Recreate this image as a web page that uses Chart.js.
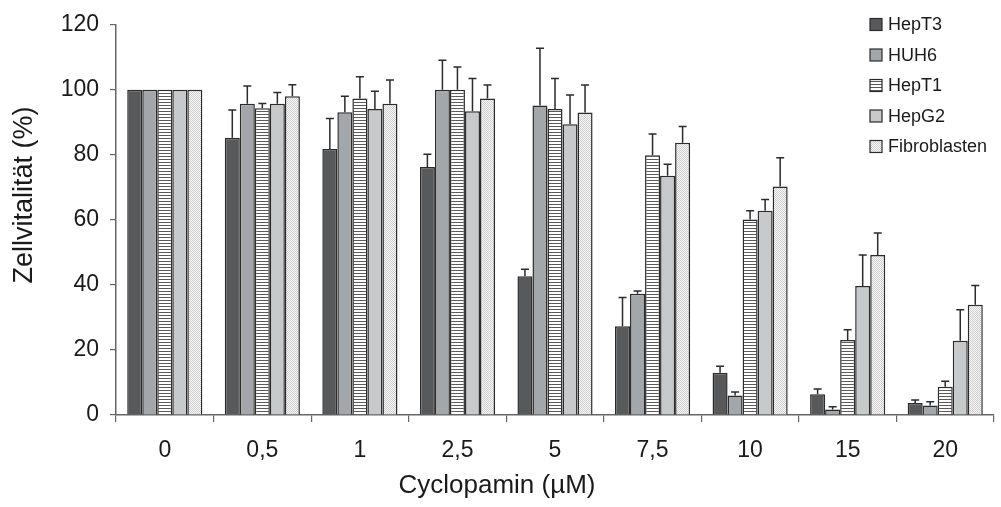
<!DOCTYPE html>
<html>
<head>
<meta charset="utf-8">
<script src="https://cdn.jsdelivr.net/npm/chart.js@4"></script>
<style>
  body { margin: 0; background: #fff; }
  #wrap { width: 1001px; height: 507px; }
</style>
</head>
<body>
<div id="wrap"><canvas id="chart" width="1001" height="507"></canvas></div>
<script>
// Data
const categories = ['0', '0,5', '1', '2,5', '5', '7,5', '10', '15', '20'];
const seriesNames = ['HepT3', 'HUH6', 'HepT1', 'HepG2', 'Fibroblasten'];

const hepT3 = [100, 85.3, 81.8, 76.3, 42.7, 27.3, 13.0, 6.4, 3.7];
const huh6 = [100, 95.7, 93.1, 100, 95.2, 37.3, 6.0, 1.7, 2.9];
const hepT1 = [100, 94.3, 97.3, 100, 94.1, 79.9, 60.1, 23.1, 8.7];
const hepG2 = [100, 95.7, 94.1, 93.4, 89.4, 73.6, 62.8, 39.7, 22.8];
const fibro = [100, 98.0, 95.7, 97.3, 93.0, 83.7, 70.3, 49.2, 33.9];

const hepT3Err = [0, 8.5, 9.4, 3.9, 2.1, 8.8, 2.0, 1.6, 0.9];
const huh6Err = [0, 5.5, 4.9, 9.1, 17.6, 0.8, 1.1, 0.8, 1.2];
const hepT1Err = [0, 1.5, 6.7, 7.0, 9.4, 6.5, 2.7, 3.1, 1.7];
const hepG2Err = [0, 3.5, 5.5, 10.1, 9.0, 3.5, 3.5, 9.5, 9.6];
const fibroErr = [0, 3.6, 7.3, 4.2, 8.5, 5.0, 8.8, 6.8, 5.9];

const yTicks = [0, 20, 40, 60, 80, 100, 120];
const xTitle = 'Cyclopamin (µM)';
const yTitle = 'Zellvitalität (%)';

const FONT = "'Liberation Sans', Arial, sans-serif";

// Fill patterns
function stripePattern() {
    const c = document.createElement('canvas');
    c.width = 4; c.height = 3;
    const g = c.getContext('2d');
    g.fillStyle = '#ffffff';
    g.fillRect(0, 0, 4, 3);
    g.fillStyle = '#5a5a5a';
    g.fillRect(0, 0, 4, 1);
    return g.createPattern(c, 'repeat');
}

function dotPattern() {
    const c = document.createElement('canvas');
    c.width = 2; c.height = 2;
    const g = c.getContext('2d');
    g.fillStyle = '#f7f7f7';
    g.fillRect(0, 0, 2, 2);
    g.fillStyle = '#cfcfcf';
    g.fillRect(0, 0, 1, 1);
    g.fillRect(1, 1, 1, 1);
    return g.createPattern(c, 'repeat');
}

const fills = ['#58595b', '#a4a7aa', stripePattern(), '#c8c9cb', dotPattern()];
const values = [hepT3, huh6, hepT1, hepG2, fibro];
const errors = [hepT3Err, huh6Err, hepT1Err, hepG2Err, fibroErr];

// Upward error bars
const errorBars = {
    id: 'errorBars',
    afterDatasetsDraw(chart) {
        const ctx = chart.ctx;
        const y = chart.scales.y;
        ctx.save();
        ctx.strokeStyle = '#2b2b2b';
        ctx.lineWidth = 1.5;
        chart.data.datasets.forEach((ds, i) => {
            const meta = chart.getDatasetMeta(i);
            meta.data.forEach((bar, j) => {
                const err = errors[i][j];
                if (!err) return;
                const top = y.getPixelForValue(ds.data[j] + err);
                ctx.beginPath();
                ctx.moveTo(bar.x, bar.y);
                ctx.lineTo(bar.x, top);
                ctx.moveTo(bar.x - 4, top);
                ctx.lineTo(bar.x + 4, top);
                ctx.stroke();
            });
        });
        ctx.restore();
    }
};

// Legend inside the plot (top right) and the y title, which sits a bit above centre
const extras = {
    id: 'extras',
    afterDraw(chart) {
        const ctx = chart.ctx;
        ctx.save();
        ctx.font = '18px ' + FONT;
        ctx.textBaseline = 'middle';
        seriesNames.forEach((name, i) => {
            const cy = 24.5 + i * 30.5;
            ctx.fillStyle = fills[i];
            ctx.fillRect(870, cy - 6, 12, 12);
            ctx.strokeStyle = '#2b2b2b';
            ctx.lineWidth = 1.2;
            ctx.strokeRect(870, cy - 6, 12, 12);
            ctx.fillStyle = '#1a1a1a';
            ctx.fillText(name, 888, cy + 1);
        });

        ctx.font = '27px ' + FONT;
        ctx.textAlign = 'center';
        ctx.translate(24, 195);
        ctx.rotate(-Math.PI / 2);
        ctx.fillText(yTitle, 0, 1);
        ctx.restore();
    }
};

const chart = new Chart(document.getElementById('chart'), {
    type: 'bar',
    data: {
        labels: categories,
        datasets: seriesNames.map((name, i) => ({
            label: name,
            data: values[i],
            backgroundColor: fills[i],
            borderColor: '#2b2b2b',
            borderWidth: 1.5,
            categoryPercentage: 0.77,
            barPercentage: 1.0,
        })),
    },
    options: {
        responsive: false,
        animation: false,
        layout: { padding: { top: 21, right: 7, left: 0, bottom: 0 } },
        plugins: {
            legend: { display: false },
            tooltip: { enabled: false },
            title: {
                display: true,
                position: 'bottom',
                text: xTitle,
                color: '#1a1a1a',
                font: { family: FONT, size: 26, weight: 'normal' },
                padding: { top: 0, bottom: 6 },
            },
        },
        scales: {
            x: {
                grid: {
                    offset: true,
                    drawOnChartArea: false,
                    drawTicks: true,
                    tickLength: 7,
                    color: '#666',
                    lineWidth: 1.2,
                },
                border: { color: '#666', width: 1.5 },
                ticks: {
                    color: '#1a1a1a',
                    font: { family: FONT, size: 23 },
                    padding: 15,
                    maxRotation: 0,
                },
                afterFit(scale) { scale.height = 92 - 37.2; },
            },
            y: {
                min: 0,
                max: 120,
                afterBuildTicks(scale) { scale.ticks = yTicks.map(v => ({ value: v })); },
                grid: {
                    drawOnChartArea: false,
                    drawTicks: true,
                    tickLength: 6,
                    color: '#666',
                    lineWidth: 1.2,
                },
                border: { color: '#666', width: 1.5 },
                ticks: {
                    color: '#1a1a1a',
                    font: { family: FONT, size: 23 },
                    padding: 11,
                },
                afterFit(scale) { scale.width = 116; },
            },
        },
    },
    plugins: [errorBars, extras],
});
</script>
</body>
</html>
